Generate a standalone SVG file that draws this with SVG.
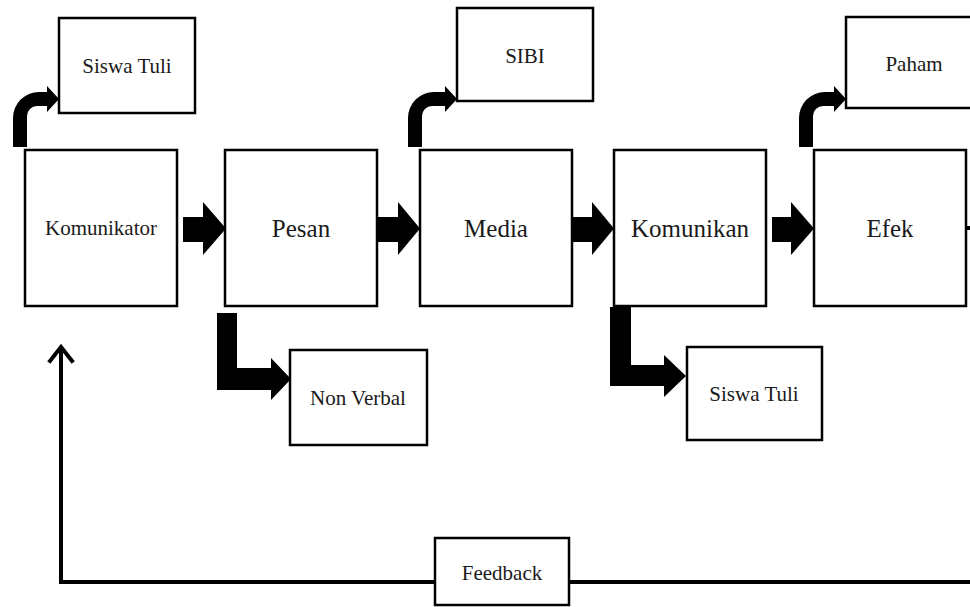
<svg xmlns="http://www.w3.org/2000/svg" width="970" height="607" viewBox="0 0 970 607">
<style>
.box{fill:#fff;stroke:#000;stroke-width:2.5}
.t{font-family:"Liberation Serif","Times New Roman",serif;fill:#1a1a1a;text-anchor:middle;dominant-baseline:central}
.s{font-size:21px}
.m{font-size:25px}
.blk{fill:#000;stroke:none}
.ln{fill:none;stroke:#000;stroke-width:4}
</style>
<rect width="970" height="607" fill="#fff"/>
<g id="connectors">
<path class="blk" d="M183,217 H203 V202 L226,228.5 L203,255 V242 H183 Z"/>
<path class="blk" d="M378,217 H398 V202 L420,228.5 L398,255 V242 H378 Z"/>
<path class="blk" d="M573,217 H592 V202 L614,228.5 L592,255 V242 H573 Z"/>
<path class="blk" d="M772,217 H791 V202 L814,228.5 L791,255 V242 H772 Z"/>
<path class="blk" d="M13,147 V118 A26,26 0 0 1 39,92 H47 V86 L59,99 L47,112 V106 H37 A10,10 0 0 0 27,116 V147 Z"/>
<path class="blk" d="M408,147 V118 A26,26 0 0 1 434,92 H445 V86 L457,99 L445,112 V106 H432 A10,10 0 0 0 422,116 V147 Z"/>
<path class="blk" d="M799,147 V118 A26,26 0 0 1 825,92 H834 V86 L846,99 L834,112 V106 H823 A10,10 0 0 0 813,116 V147 Z"/>
<path class="blk" d="M217,313 H237 V368 H271 V358 L291,379 L271,400 V390 H217 Z"/>
<path class="blk" d="M610,307 H631 V365 H664 V355 L686,376 L664,397 V386 H610 Z"/>
<path class="ln" d="M435,582 H61 V346"/>
<path class="ln" d="M569,582 H972"/>
<path class="ln" d="M966,228 H972"/>
<path fill="none" stroke="#000" stroke-width="4" stroke-linecap="square" stroke-linejoin="miter" d="M50,361 L61,347 L72,361"/>
</g>
<g id="komunikator"><rect class="box" x="25" y="150" width="152" height="156"/><text class="t s" x="101" y="228">Komunikator</text></g>
<g id="pesan"><rect class="box" x="225" y="150" width="152" height="156"/><text class="t m" x="301" y="228">Pesan</text></g>
<g id="media"><rect class="box" x="420" y="150" width="152" height="156"/><text class="t m" x="496" y="228">Media</text></g>
<g id="komunikan"><rect class="box" x="614" y="150" width="152" height="156"/><text class="t m" x="690" y="228">Komunikan</text></g>
<g id="efek"><rect class="box" x="814" y="150" width="152" height="156"/><text class="t m" x="890" y="228">Efek</text></g>
<g id="siswa-tuli-1"><rect class="box" x="59" y="18" width="136" height="95"/><text class="t s" x="127" y="66">Siswa Tuli</text></g>
<g id="sibi"><rect class="box" x="457" y="8" width="136" height="93"/><text class="t s" x="525" y="56">SIBI</text></g>
<g id="paham"><rect class="box" x="846" y="17" width="140" height="91"/><text class="t s" x="914" y="64">Paham</text></g>
<g id="non-verbal"><rect class="box" x="290" y="350" width="137" height="95"/><text class="t s" x="358" y="398">Non Verbal</text></g>
<g id="siswa-tuli-2"><rect class="box" x="687" y="347" width="135" height="93"/><text class="t s" x="754" y="394">Siswa Tuli</text></g>
<g id="feedback"><rect class="box" x="435" y="538" width="134" height="67"/><text class="t s" x="502" y="573">Feedback</text></g>
</svg>
